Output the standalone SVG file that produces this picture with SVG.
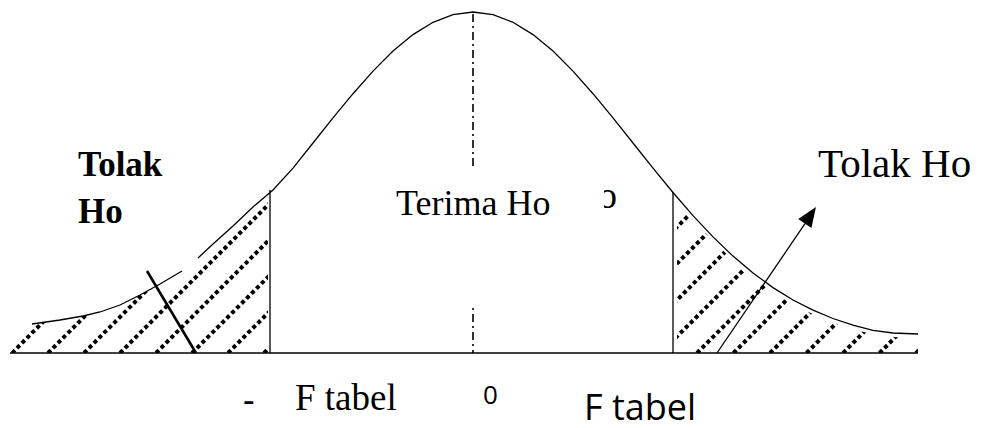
<svg xmlns="http://www.w3.org/2000/svg" width="981" height="428" viewBox="0 0 981 428">
<style>
.curve{fill:none;stroke:#000;stroke-width:1.3}
.hatch{stroke:#000;stroke-width:4;stroke-dasharray:4 3;fill:none}
.line{stroke:#000;fill:none}
.serif{font-family:"Liberation Serif","Times New Roman",serif;fill:#000}
.sans{font-family:"Open Sans","Noto Sans",sans-serif;fill:#000}
</style>
<defs>
<clipPath id="clipL">
<polygon points="10,353 32,324 60,320 83,316 100,312 120,305 140,295 160,284 182,271 198,258 213,244 233,226 253,207 268,191 268,353"/>
</clipPath>
<clipPath id="clipR">
<polygon points="677,353 677,200 693,219.6 713,240.9 733,260.1 753,277 773,291.6 793,304 813,314.2 833,322.5 853,329.1 873,334.4 893,337 918,338 918,353"/>
</clipPath>
<clipPath id="clipO">
<rect x="604" y="170" width="30" height="50"/>
</clipPath>
</defs>
<rect width="981" height="428" fill="#fff"/>
<g id="connectors">
<line class="line" x1="10" y1="353" x2="918" y2="353" stroke-width="1.6"/>
<line class="line" x1="270" y1="190" x2="270" y2="353" stroke-width="1.3"/>
<line class="line" x1="673" y1="192" x2="673" y2="353" stroke-width="1.3"/>
<line class="line" x1="473" y1="14" x2="473" y2="170" stroke-width="1.6" stroke-dasharray="8 4 2 4"/>
<line class="line" x1="473" y1="308" x2="473" y2="353" stroke-width="1.6" stroke-dasharray="2 4 8 4"/>
<line class="line" x1="147" y1="271" x2="196" y2="353" stroke-width="2.6"/>
<line class="line" x1="717" y1="353" x2="805" y2="223.6" stroke-width="1.3"/>
<polygon points="816,207 811.4,228.1 798.2,219.1" fill="#000"/>
</g>
<g id="curve">
<path class="curve" d="M32,324 L60,320 L83,316 L100,312 L120,305 L140,295 L160,284 L182,271"/>
<path class="curve" d="M198,258 L213,244 L233,226 L253,207 L273,190 L293,168.1 L313,143 L333,117.9 L353,93.7 L373,71.1 L393,51.1 L413,34.6 L433,22.3 L453,14.6 L473,12 L493,14.6 L513,22.3 L533,34.6 L553,51.1 L573,71.1 L593,93.7 L613,117.9 L633,143 L653,168.1 L673,192.5 L693,215.6 L713,236.9 L733,256.1 L753,273 L773,287.6 L793,300 L813,310.2 L833,318.5 L853,325.1 L873,330.4 L893,333 L918,334"/>
</g>
<g id="hatch-left" clip-path="url(#clipL)">
<line class="hatch" x1="12" y1="353" x2="212" y2="153"/>
<line class="hatch" x1="48" y1="353" x2="248" y2="153"/>
<line class="hatch" x1="84" y1="353" x2="284" y2="153"/>
<line class="hatch" x1="120" y1="353" x2="320" y2="153"/>
<line class="hatch" x1="156" y1="353" x2="356" y2="153"/>
<line class="hatch" x1="192" y1="353" x2="392" y2="153"/>
<line class="hatch" x1="228" y1="353" x2="428" y2="153"/>
<line class="hatch" x1="264" y1="353" x2="464" y2="153"/>
</g>
<g id="hatch-right" clip-path="url(#clipR)">
<line class="hatch" x1="551" y1="353" x2="801" y2="103"/>
<line class="hatch" x1="587.5" y1="353" x2="837.5" y2="103"/>
<line class="hatch" x1="624" y1="353" x2="874" y2="103"/>
<line class="hatch" x1="660.5" y1="353" x2="910.5" y2="103"/>
<line class="hatch" x1="697" y1="353" x2="947" y2="103"/>
<line class="hatch" x1="733.5" y1="353" x2="983.5" y2="103"/>
<line class="hatch" x1="770" y1="353" x2="1020" y2="103"/>
<line class="hatch" x1="806.5" y1="353" x2="1056.5" y2="103"/>
<line class="hatch" x1="843" y1="353" x2="1093" y2="103"/>
<line class="hatch" x1="879.5" y1="353" x2="1129.5" y2="103"/>
<line class="hatch" x1="916" y1="353" x2="1166" y2="103"/>
</g>
<g id="label-tolak-left">
<text class="serif" x="78" y="176" font-size="35" font-weight="bold">Tolak</text>
<text class="serif" x="78" y="223" font-size="35" font-weight="bold">Ho</text>
</g>
<g id="label-terima">
<text class="serif" x="396" y="215" font-size="36">Terima Ho</text>
<text class="serif" x="598" y="208" font-size="38" clip-path="url(#clipO)">o</text>
</g>
<g id="label-tolak-right">
<text class="serif" x="818" y="177" font-size="41">Tolak Ho</text>
</g>
<g id="label-axis">
<text class="sans" x="243" y="413" font-size="36">-</text>
<text class="serif" x="295" y="410" font-size="37">F tabel</text>
<text class="sans" x="483" y="404" font-size="26">0</text>
<text class="sans" x="584" y="420" font-size="36">F tabel</text>
</g>
</svg>
